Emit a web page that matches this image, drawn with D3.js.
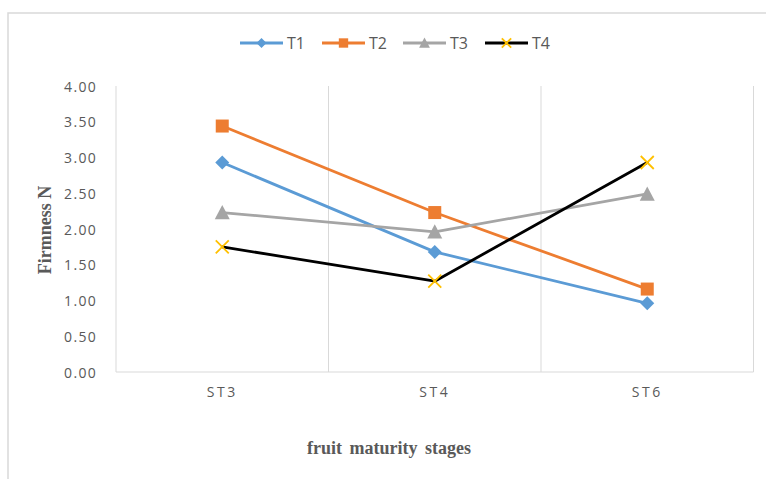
<!DOCTYPE html>
<html>
<head>
<meta charset="utf-8">
<script src="https://cdn.jsdelivr.net/npm/d3@7"></script>
<style>
  html, body { margin: 0; padding: 0; background: #ffffff; }
  svg { display: block; }
</style>
</head>
<body>
<svg id="chart" width="766" height="479"></svg>
<script>
// Firmness of fruit at three maturity stages, four treatments
const stages = ["ST3", "ST4", "ST6"];
const seriesNames = ["T1", "T2", "T3", "T4"];
const t1 = [2.93, 1.68, 0.96];
const t2 = [3.44, 2.23, 1.16];
const t3 = [2.23, 1.96, 2.49];
const t4 = [1.75, 1.27, 2.93];
const yTicks = [0, 0.5, 1, 1.5, 2, 2.5, 3, 3.5, 4];

const seriesValues = [t1, t2, t3, t4];
const lineColors = ["#5B9BD5", "#ED7D31", "#A5A5A5", "#000000"];
const markerColors = ["#5B9BD5", "#ED7D31", "#A5A5A5", "#FFC000"];
const markerTypes = ["diamond", "square", "triangle", "cross"];

const svg = d3.select("#chart");
const gridColor = "#d9d9d9";
const textColor = "#595959";
const tickFont = "'Open Sans', 'Liberation Sans', sans-serif";
const titleFont = "'Liberation Serif', 'Times New Roman', serif";

// outer frame (left and top edges)
svg.append("path")
  .attr("d", "M8,479 L8,13 L766,13")
  .attr("fill", "none")
  .attr("stroke", gridColor)
  .attr("stroke-width", 1.5);

const plot = { left: 116, right: 753.5, top: 86, bottom: 372 };

const x = d3.scaleBand().domain(stages).range([plot.left, plot.right]).padding(0);
const y = d3.scaleLinear().domain([0, 4]).range([plot.bottom, plot.top]);

// vertical gridlines at category boundaries
const bounds = stages.map(s => x(s)).concat([x(stages[stages.length - 1]) + x.bandwidth()]);
svg.append("g").selectAll("line").data(bounds).join("line")
  .attr("x1", d => d).attr("x2", d => d)
  .attr("y1", plot.top).attr("y2", plot.bottom)
  .attr("stroke", gridColor).attr("stroke-width", 1);

// bottom axis line
svg.append("line")
  .attr("x1", plot.left).attr("x2", plot.right)
  .attr("y1", plot.bottom).attr("y2", plot.bottom)
  .attr("stroke", gridColor).attr("stroke-width", 1.2);

// y axis tick labels
const yAxis = d3.axisLeft(y).tickValues(yTicks).tickFormat(d3.format(".2f")).tickSize(0).tickPadding(0);
const gy = svg.append("g").attr("transform", `translate(${plot.left - 19},0)`).call(yAxis);
gy.select(".domain").remove();
gy.selectAll("text")
  .attr("fill", textColor)
  .attr("font-family", tickFont)
  .attr("font-size", 14)
  .attr("letter-spacing", 1.3)
  .attr("dy", "0.36em");

// x axis tick labels
const xAxis = d3.axisBottom(x).tickSize(0).tickPadding(0);
const gx = svg.append("g").attr("transform", `translate(0,${plot.bottom + 17})`).call(xAxis);
gx.select(".domain").remove();
gx.selectAll("text")
  .attr("fill", textColor)
  .attr("font-family", tickFont)
  .attr("font-size", 14)
  .attr("letter-spacing", 2.5)
  .attr("dy", "0.6em");

// axis titles
svg.append("text")
  .attr("transform", "translate(51,230) rotate(-90)")
  .attr("text-anchor", "middle")
  .attr("font-family", titleFont)
  .attr("font-weight", "bold")
  .attr("font-size", 18)
  .attr("fill", textColor)
  .text("Firmness N");

svg.append("text")
  .attr("x", 389).attr("y", 454)
  .attr("text-anchor", "middle")
  .attr("font-family", titleFont)
  .attr("font-weight", "bold")
  .attr("font-size", 18)
  .attr("word-spacing", 3)
  .attr("fill", textColor)
  .text("fruit maturity stages");

// marker drawing
function drawMarker(g, type, color, cx, cy, scale) {
  const s = scale || 1;
  if (type === "diamond") {
    const r = 7 * s;
    g.append("path").attr("d", `M${cx},${cy - r}L${cx + r},${cy}L${cx},${cy + r}L${cx - r},${cy}Z`).attr("fill", color);
  } else if (type === "square") {
    const h = 6.5 * s;
    g.append("rect").attr("x", cx - h).attr("y", cy - h).attr("width", 2 * h).attr("height", 2 * h).attr("fill", color);
  } else if (type === "triangle") {
    const w = 7.5 * s, hh = 7.5 * s;
    g.append("path").attr("d", `M${cx},${cy - hh}L${cx + w},${cy + hh * 0.9}L${cx - w},${cy + hh * 0.9}Z`).attr("fill", color);
  } else {
    const r = 6.5 * s;
    g.append("path").attr("d", `M${cx - r},${cy - r}L${cx + r},${cy + r}M${cx + r},${cy - r}L${cx - r},${cy + r}`)
      .attr("stroke", color).attr("stroke-width", 1.8).attr("fill", "none");
  }
}

// series lines and markers
const line = d3.line()
  .x((d, i) => x(stages[i]) + x.bandwidth() / 2)
  .y(d => y(d));

seriesValues.forEach((vals, k) => {
  const g = svg.append("g");
  g.append("path").datum(vals)
    .attr("d", line)
    .attr("fill", "none")
    .attr("stroke", lineColors[k])
    .attr("stroke-width", 2.8)
    .attr("stroke-linejoin", "round")
    .attr("stroke-linecap", "round");
  vals.forEach((v, i) => {
    drawMarker(g, markerTypes[k], markerColors[k], x(stages[i]) + x.bandwidth() / 2, y(v), 1);
  });
});

// legend
const legendX = [240, 322, 403, 485];
const legendY = 43;
seriesNames.forEach((name, k) => {
  const g = svg.append("g");
  const x0 = legendX[k];
  g.append("line")
    .attr("x1", x0).attr("x2", x0 + 43)
    .attr("y1", legendY).attr("y2", legendY)
    .attr("stroke", lineColors[k]).attr("stroke-width", 2.8);
  drawMarker(g, markerTypes[k], markerColors[k], x0 + 21.5, legendY, 0.72);
  g.append("text")
    .attr("x", x0 + 47).attr("y", legendY)
    .attr("dy", "0.36em")
    .attr("font-family", tickFont)
    .attr("font-size", 16)
    .attr("fill", textColor)
    .text(name);
});
</script>
</body>
</html>
